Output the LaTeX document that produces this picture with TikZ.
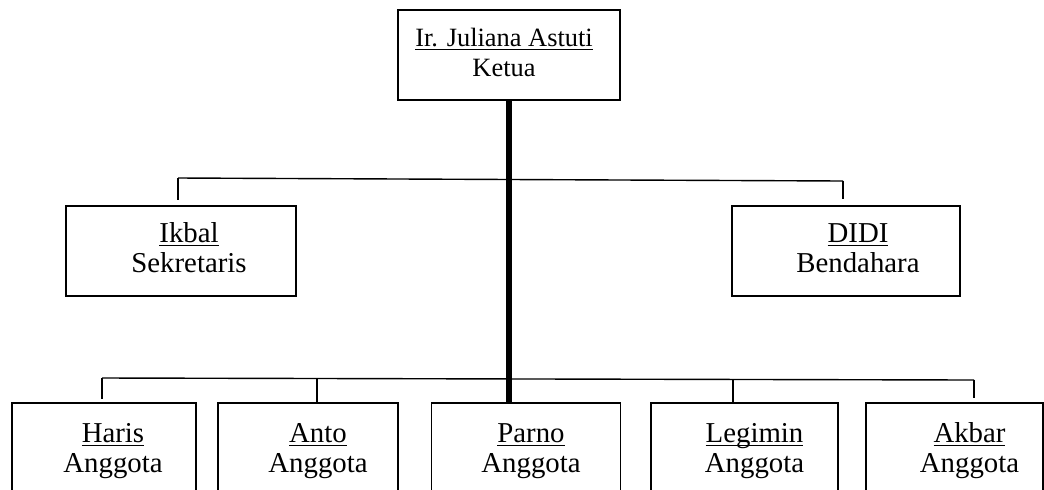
\documentclass[tikz,border=0pt]{standalone}
\usepackage{fontspec}
\setmainfont{Liberation Serif}

\newcommand{\garis}[1]{\setbox0\hbox{#1}\rlap{\rule[-2pt]{\wd0}{0.7pt}}\box0}
\newcommand{\jab}[3][0pt]{\hspace*{#1}\begin{tabular}{@{}c@{}}\garis{#2}\\#3\end{tabular}}

\begin{document}
\begin{tikzpicture}[x=0.5pt, y=-0.5pt, line width=0.7pt,
    box/.style={rectangle, draw, line width=0.75pt, inner sep=0pt, minimum height=45pt, font=\fontsize{14.4}{15}\selectfont},
    anggota/.style={box, minimum height=48pt}]
    \useasboundingbox (0,0) rectangle (1044,489);

    % ketua
    \node[box, minimum width=111pt, font=\fontsize{13.2}{15}\selectfont] (ketua) at (509,55) {\jab[-5pt]{Ir. Juliana Astuti}{Ketua}};

    % sekretaris, bendahara
    \node[box, minimum width=115pt] (ikbal) at (181,251) {\jab[8pt]{Ikbal}{Sekretaris}};
    \node[box, minimum width=114pt] (didi) at (846,251) {\jab[12pt]{DIDI}{Bendahara}};

    % anggota
    \node[anggota, minimum width=92pt] (haris) at (104,451) {\jab[9pt]{Haris}{Anggota}};
    \node[anggota, minimum width=90pt] (anto) at (308,451) {\jab[10pt]{Anto}{Anggota}};
    \node[anggota, minimum width=94.5pt] (parno) at (526,451) {\jab[5pt]{Parno}{Anggota}};
    \node[anggota, minimum width=93.5pt] (legimin) at (744.5,451) {\jab[10pt]{Legimin}{Anggota}};
    \node[anggota, minimum width=88.5pt] (akbar) at (954.5,451) {\jab[15pt]{Akbar}{Anggota}};

    \coordinate (b1l) at (178,178);
    \coordinate (b1r) at (843,181);
    \coordinate (b2l) at (102,378);
    \coordinate (b2a) at (317,378.5);
    \coordinate (b2g) at (733,379.5);
    \coordinate (b2r) at (974,380);

    \draw (b1l) -- (b1r);
    \draw[shorten >=2.5pt] (b1l) -- (b1l |- ikbal.north);
    \draw[shorten >=3pt] (b1r) -- (b1r |- didi.north);

    \draw (b2l) -- (b2r);
    \draw[shorten >=1.5pt] (b2l) -- (b2l |- haris.north);
    \draw (b2a) -- (b2a |- anto.north);
    \draw (b2g) -- (b2g |- legimin.north);
    \draw[shorten >=2pt] (b2r) -- (b2r |- akbar.north);

    \draw[line width=2.8pt] (ketua.south) -- (ketua.south |- parno.north);
\end{tikzpicture}
\end{document}
